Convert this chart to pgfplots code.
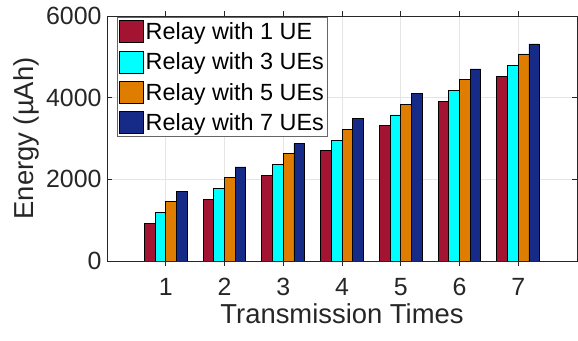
\documentclass[border=0pt]{standalone}
\usepackage{pgfplots}
\pgfplotsset{compat=1.18}
\usepackage{fontspec}
\setmainfont{Liberation Sans}
\definecolor{cRed}{RGB}{162,20,50}
\definecolor{cCyan}{RGB}{0,255,255}
\definecolor{cOrange}{RGB}{222,125,0}
\definecolor{cBlue}{RGB}{22,42,135}
\definecolor{axgray}{RGB}{38,38,38}
\begin{document}
\begin{tikzpicture}
\begin{axis}[
  scale only axis,
  width=470bp, height=245bp,
  xmin=0, xmax=8, ymin=0, ymax=6000,
  xtick={1,2,3,4,5,6,7},
  ytick={0,2000,4000,6000},
  scaled ticks=false,
  /pgf/number format/1000 sep={},
  /pgf/number format/assume math mode=true,
  tick label style={font=\fontsize{25}{28}\selectfont, text=axgray},
  xticklabel style={yshift=-9bp},
  yticklabel style={xshift=-2bp},
  axis line style={axgray, line width=0.8bp},
  tick style={axgray, line width=0.8bp},
  tick align=inside,
  major tick length=5bp,
  grid=major,
  major grid style={black!10, line width=0.6bp},
  ybar=0pt,
  bar width=0.182,
  every axis plot/.append style={draw=black, line width=0.8bp},
  legend image code/.code={\draw[#1] (0bp,-11bp) rectangle (24bp,11bp);},
  legend cell align=left,
  legend style={
    at={(axis description cs:0.0213,0.994)}, anchor=north west,
    draw=black!60, line width=0.8bp, fill=white,
    font=\fontsize{23.5}{26}\selectfont,
    inner xsep=2bp, inner ysep=2.5bp,
    row sep=7.5bp,
    nodes={inner xsep=1.5bp},
  },
  xlabel={Transmission Times},
  ylabel={Energy (µAh)},
  label style={font=\fontsize{27.5}{30}\selectfont, text=axgray},
  xlabel style={at={(axis description cs:0.5,-0.2571)}, anchor=base},
  ylabel style={at={(axis description cs:-0.1574,0.5)}, anchor=base},
]
\addplot[fill=cRed] coordinates {(1,920) (2,1510) (3,2106) (4,2710) (5,3312) (6,3918) (7,4522)};
\addplot[fill=cCyan] coordinates {(1,1182) (2,1770) (3,2366) (4,2962) (5,3576) (6,4180) (7,4792)};
\addplot[fill=cOrange] coordinates {(1,1452) (2,2040) (3,2628) (4,3228) (5,3838) (6,4450) (7,5070)};
\addplot[fill=cBlue] coordinates {(1,1706) (2,2302) (3,2882) (4,3482) (5,4106) (6,4702) (7,5315)};
\legend{Relay with 1 UE, Relay with 3 UEs, Relay with 5 UEs, Relay with 7 UEs}
\end{axis}
\pgfresetboundingbox
\path[use as bounding box] ([xshift=-107bp,yshift=-80bp]current axis.south west) rectangle ([xshift=1bp,yshift=16bp]current axis.north east);
\end{tikzpicture}
\end{document}
